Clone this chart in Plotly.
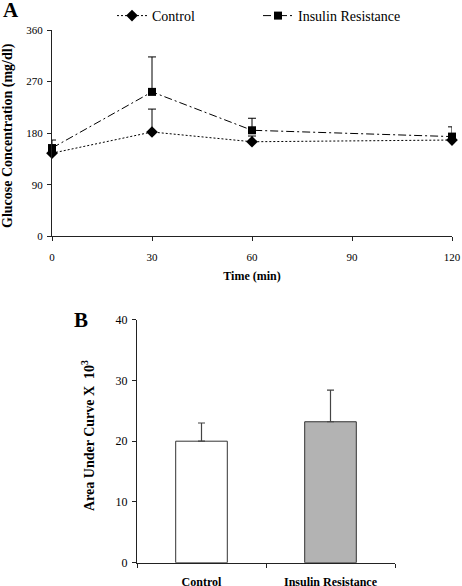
import plotly.graph_objects as go

# ---- Data ----
time_min = [0, 30, 60, 120]
control_glucose = [145, 182, 165, 168]
control_err = [6, 40, 10, 5]
ir_glucose = [154, 252, 185, 174]
ir_err = [14, 61, 21, 17]

auc_groups = ["Control", "Insulin Resistance"]
auc_values = [20.0, 23.2]
auc_err = [3.0, 5.2]
auc_colors = ["#ffffff", "#b3b3b3"]

W, H = 462, 586
FONT = "Liberation Serif, Times New Roman, serif"


def px(x):
    return x / W


def py(y):
    return 1 - y / H


fig = go.Figure()

fig.add_trace(go.Scatter(
    x=time_min, y=control_glucose, name="Control", mode="lines+markers",
    line=dict(color="black", width=1, dash="2px,2px"),
    marker=dict(symbol="diamond", size=9, color="black"),
    error_y=dict(type="data", symmetric=False, array=control_err,
                 arrayminus=[0] * len(control_err), color="black",
                 thickness=1, width=4),
    cliponaxis=False, xaxis="x", yaxis="y",
))
fig.add_trace(go.Scatter(
    x=time_min, y=ir_glucose, name="Insulin Resistance", mode="lines+markers",
    line=dict(color="black", width=1, dash="8px,3px,2px,3px"),
    marker=dict(symbol="square", size=8, color="black"),
    error_y=dict(type="data", symmetric=False, array=ir_err,
                 arrayminus=[0] * len(ir_err), color="black",
                 thickness=1, width=4),
    cliponaxis=False, xaxis="x", yaxis="y",
))

fig.add_trace(go.Bar(
    x=auc_groups, y=auc_values, showlegend=False,
    marker=dict(color=auc_colors, line=dict(color="#333333", width=1)),
    error_y=dict(type="data", symmetric=False, array=auc_err,
                 arrayminus=[0, 0], color="#444444", thickness=1.2, width=3.5),
    xaxis="x2", yaxis="y2",
))

axis_common = dict(showline=True, linecolor="#222222", linewidth=1,
                   ticks="outside", ticklen=4, tickcolor="#222222",
                   showgrid=False, zeroline=False, automargin=False)

fig.update_layout(
    width=W, height=H, autosize=False,
    margin=dict(l=0, r=0, t=0, b=0, pad=0),
    paper_bgcolor="white", plot_bgcolor="white",
    font=dict(family=FONT, color="black", size=11),
    bargap=0.6,
    showlegend=True,
    legend=dict(orientation="h", x=px(112), y=1.0, xanchor="left", yanchor="top",
                font=dict(family=FONT, size=14, color="black"),
                entrywidth=101, bgcolor="rgba(0,0,0,0)"),
    xaxis=dict(domain=[px(52), px(452)], range=[0, 120], tickvals=[0, 30, 60, 90, 120],
               anchor="y", tickfont=dict(size=11), ticklabelstandoff=6,
               title=dict(text="<b>Time (min)</b>", font=dict(size=12), standoff=10),
               **axis_common),
    yaxis=dict(domain=[py(236.3), py(30)], range=[0, 360], tickvals=[0, 90, 180, 270, 360],
               anchor="x", tickfont=dict(size=11), ticklabelstandoff=2,
               **axis_common),
    xaxis2=dict(domain=[px(137), px(395)], range=[-0.5, 1.5], type="category",
                anchor="y2", tickson="boundaries", tickfont=dict(size=12),
                tickvals=auc_groups, ticktext=["<b>%s</b>" % g for g in auc_groups],
                ticklabelstandoff=8, **axis_common),
    yaxis2=dict(domain=[py(562.7), py(319.7)], range=[0, 40], tickvals=[0, 10, 20, 30, 40],
                anchor="x2", tickfont=dict(size=12), ticklabelstandoff=2,
                **axis_common),
    annotations=[
        dict(text="<b>A</b>", x=px(1), y=py(10), xref="paper", yref="paper",
             xanchor="left", yanchor="middle", showarrow=False,
             font=dict(size=21, family=FONT)),
        dict(text="<b>B</b>", x=px(72), y=py(320), xref="paper", yref="paper",
             xanchor="left", yanchor="middle", showarrow=False,
             font=dict(size=21, family=FONT)),
        dict(text="<b>Glucose Concentration (mg/dl)</b>", x=px(8), y=py(136),
             xref="paper", yref="paper", xanchor="center", yanchor="middle",
             textangle=-90, showarrow=False, font=dict(size=14, family=FONT)),
        dict(text="<b>Area Under Curve X  10<sup>3</sup></b>", x=px(88), y=py(436),
             xref="paper", yref="paper", xanchor="center", yanchor="middle",
             textangle=-90, showarrow=False, font=dict(size=14, family=FONT)),
    ],
)

fig.write_html(
    "out.html",
    config={"displayModeBar": False},
    post_script="document.body.style.margin='0';document.body.style.overflow='hidden';",
)
